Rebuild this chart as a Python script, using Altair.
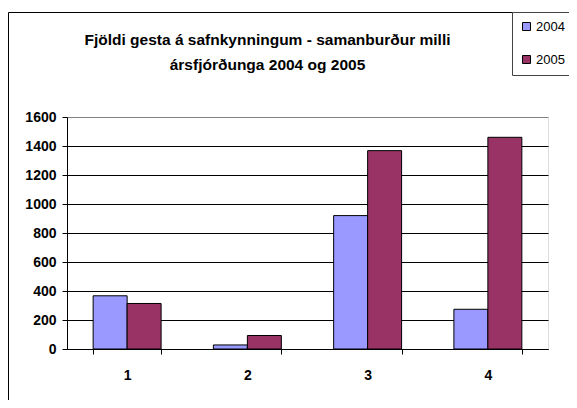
import altair as alt
import pandas as pd

quarters = ["1", "2", "3", "4"]
years = ["2004", "2005"]
values_2004 = [367, 28, 920, 274]
values_2005 = [314, 93, 1368, 1460]
colors = ["#9999FF", "#993366"]
title_lines = ["Fjöldi gesta á safnkynningum - samanburður milli", "ársfjórðunga 2004 og 2005"]
y_ticks = [0, 200, 400, 600, 800, 1000, 1200, 1400, 1600]

rows = []
for q, a, b in zip(quarters, values_2004, values_2005):
    rows.append({"q": q, "year": years[0], "v": a})
    rows.append({"q": q, "year": years[1], "v": b})
df = pd.DataFrame(rows)

FONT = "Liberation Sans, Arial"

frame = alt.Chart(pd.DataFrame({"a": [0]})).mark_rect(
    filled=False, stroke="black", strokeWidth=1
).encode(
    x=alt.value(-58.5), x2=alt.value(700),
    y=alt.value(-104.5), y2=alt.value(500),
)

bars = alt.Chart(df).mark_bar(stroke="black", strokeWidth=1, opacity=1).encode(
    x=alt.X("q:N", sort=quarters,
            scale=alt.Scale(paddingInner=0.435, paddingOuter=0.2175),
            axis=alt.Axis(title=None, labelAngle=0, labelFont=FONT, labelFontSize=14,
                          labelFontWeight="bold", labelColor="black", labelPadding=14,
                          domainColor="black", tickColor="black", tickSize=5,
                          tickBand="extent", grid=False)),
    xOffset=alt.XOffset("year:N", sort=years),
    y=alt.Y("v:Q", scale=alt.Scale(domain=[0, 1600], nice=False),
            axis=alt.Axis(title=None, values=y_ticks, format="d", labelFont=FONT,
                          labelFontSize=14, labelFontWeight="bold", labelColor="black",
                          labelPadding=6, domainColor="black", tickColor="black",
                          tickSize=5, grid=True,
                          gridColor={"condition": {"test": "datum.value >= 1600",
                                                   "value": "#808080"},
                                     "value": "black"},
                          gridOpacity=1)),
    color=alt.Color("year:N", sort=years,
                    scale=alt.Scale(domain=years, range=colors),
                    legend=alt.Legend(orient="none", legendX=445, legendY=-105,
                                      title=None, fillColor="white", strokeColor="#444",
                                      padding=8, symbolType="square", symbolSize=64,
                                      symbolStrokeColor="black", symbolStrokeWidth=1,
                                      symbolOpacity=1, labelFont=FONT,
                                      labelFontSize=13, labelColor="black", labelOffset=3,
                                      rowPadding=19)),
)

chart = alt.layer(frame, bars).properties(
    width=481, height=232,
    autosize=alt.AutoSizeParams(type="none"),
    padding={"left": 59, "top": 109, "right": 21, "bottom": 51},
    title=alt.TitleParams(title_lines, font=FONT, fontSize=15.5, fontWeight="bold",
                          color="black", anchor="middle", frame="group", dx=-40,
                          offset=0, dy=62, lineHeight=25),
).configure_view(
    fill="#C0C0C0", stroke="#808080", strokeWidth=1
).configure(background="white")

chart.save("out.html", embed_options={"renderer": "svg", "actions": False})
